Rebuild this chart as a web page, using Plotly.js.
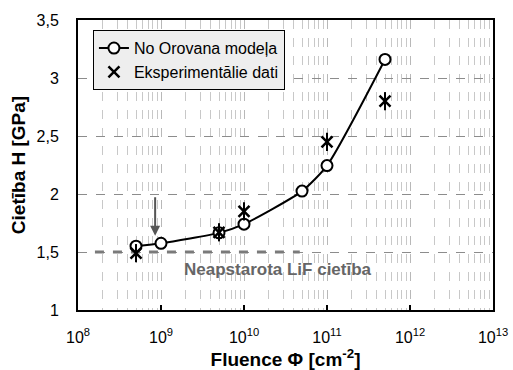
<!DOCTYPE html>
<html>
<head>
<meta charset="utf-8">
<script src="https://cdn.plot.ly/plotly-3.0.1.min.js"></script>
<style>html,body{margin:0;padding:0;background:#fff;}#chart{width:513px;height:370px;}</style>
</head>
<body>
<div id="chart"></div>
<script>
// Model (No Orovana modeļa)
const modelFluence = [5e8, 1e9, 5e9, 1e10, 5e10, 1e11, 5e11];
const modelHardness = [1.55, 1.575, 1.665, 1.74, 2.025, 2.245, 3.16];
// Experimental data
const expFluence = [5e8, 5e9, 1e10, 1e11, 5e11];
const expHardness = [1.49, 1.67, 1.85, 2.45, 2.80];
// Unirradiated LiF hardness reference level
const refFluence = [1.6e8, 4.7e10];
const refHardness = [1.5, 1.5];
// Tick labels
const xTickVals = [1e8, 1e9, 1e10, 1e11, 1e12, 1e13];
const xTickText = ['10<sup>8</sup>', '10<sup>9</sup>', '10<sup>10</sup>', '10<sup>11</sup>', '10<sup>12</sup>', '10<sup>13</sup>'];
const yTickVals = [1, 1.5, 2, 2.5, 3, 3.5];
const yTickText = ['1', '1,5', '2', '2,5', '3', '3,5'];

const FONT = '"Liberation Sans", Arial, sans-serif';

const traces = [
  {x: refFluence, y: refHardness, mode: 'lines', showlegend: false, hoverinfo: 'skip',
   line: {color: '#7a7a7a', width: 3, dash: 'dash'}},
  {x: modelFluence, y: modelHardness, mode: 'lines+markers', name: 'No Orovana modeļa',
   line: {color: '#000', width: 2, shape: 'spline', smoothing: 0.6},
   marker: {symbol: 'circle', size: 11, color: '#fff', line: {color: '#000', width: 2}}},
  {x: expFluence, y: expHardness, mode: 'markers', name: 'Eksperimentālie dati',
   marker: {symbol: 'x-thin-open', size: 11, color: '#000', line: {color: '#000', width: 2.5}}},
  {x: expFluence, y: expHardness, mode: 'markers', showlegend: false, hoverinfo: 'skip',
   marker: {symbol: 'line-ns-open', size: 13, color: '#000', line: {color: '#000', width: 2}}}
];

const layout = {
  width: 513, height: 370,
  margin: {l: 78, r: 20, t: 20, b: 60},
  paper_bgcolor: '#fff', plot_bgcolor: '#fff',
  separators: ',.',
  font: {family: FONT, size: 16, color: '#000'},
  showlegend: true,
  legend: {x: 0.036, y: 0.965, xanchor: 'left', yanchor: 'top', bgcolor: '#eeeeee',
           bordercolor: '#000', borderwidth: 1, font: {family: FONT, size: 16, color: '#000'},
           tracegroupgap: 0, itemwidth: 30},
  xaxis: {
    type: 'log', range: [8, 13], tickmode: 'array', tickvals: xTickVals, ticktext: xTickText,
    ticks: 'inside', ticklen: 5, tickwidth: 2, tickcolor: '#000', ticklabelstandoff: 12,
    showline: true, linecolor: '#000', linewidth: 2, mirror: true,
    showgrid: true, gridcolor: '#b8b8b8', griddash: 'dash', gridwidth: 1,
    minor: {dtick: 'D1', showgrid: true, gridcolor: '#c8c8c8', griddash: 'dash', gridwidth: 1, ticks: ''},
    zeroline: false, tickfont: {family: FONT, size: 16, color: '#000'},
    title: {text: '<b>Fluence Φ [cm<sup>-2</sup>]</b>', font: {family: FONT, size: 19, color: '#000'}, standoff: 2}
  },
  yaxis: {
    range: [1, 3.5], tickmode: 'array', tickvals: yTickVals, ticktext: yTickText,
    ticks: '', ticklabelstandoff: 14,
    showline: true, linecolor: '#000', linewidth: 2, mirror: true,
    showgrid: true, gridcolor: '#8c8c8c', griddash: 'dash', gridwidth: 1,
    zeroline: false, tickfont: {family: FONT, size: 16, color: '#000'},
    title: {text: '<b>Cietība H [GPa]</b>', font: {family: FONT, size: 19, color: '#000'}, standoff: 6}
  },
  annotations: [
    {x: Math.log10(8.5e8), y: 1.64, xref: 'x', yref: 'y', showarrow: true,
     ax: 0, ay: -40, arrowhead: 2, arrowsize: 1, arrowwidth: 2, arrowcolor: '#555', text: ''},
    {x: Math.log10(2.6e10), y: 1.345, xref: 'x', yref: 'y', showarrow: false,
     text: '<b>Neapstarota LiF cietība</b>', font: {family: FONT, size: 17, color: '#666'}}
  ]
};

Plotly.newPlot('chart', traces, layout, {displayModeBar: false, staticPlot: true});
</script>
</body>
</html>
